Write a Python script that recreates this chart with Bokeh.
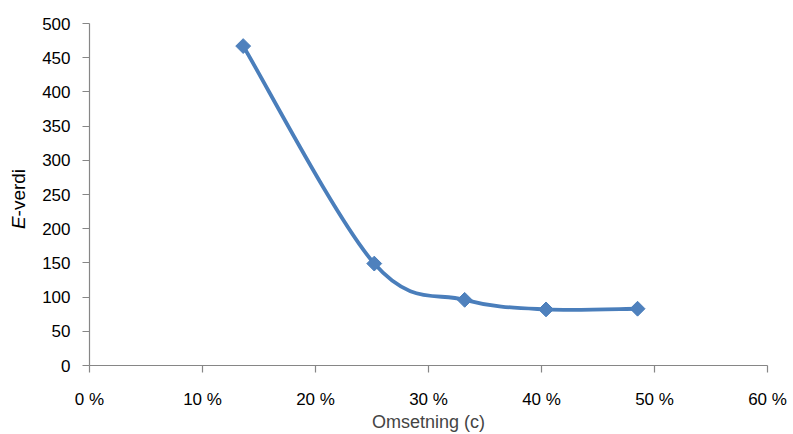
import math
from bokeh.plotting import figure
from bokeh.models import ColumnDataSource, FixedTicker, Range1d, Div
from bokeh.layouts import row
from bokeh.embed import file_html
from bokeh.resources import INLINE

# --- data ---
conversion = [13.6, 25.2, 33.2, 40.4, 48.5]   # Omsetning (c), %
e_value = [467, 149, 96, 82, 83]               # E-verdi
x_ticks = [0, 10, 20, 30, 40, 50, 60]
x_tick_labels = ["0 %", "10 %", "20 %", "30 %", "40 %", "50 %", "60 %"]
y_ticks = [0, 50, 100, 150, 200, 250, 300, 350, 400, 450, 500]

LINE = "#4A7EBB"
FILL = "#4F81BD"
AXIS = "#868686"
FONT = "Liberation Sans"

DIV_W = 30
p = figure(width=793 - DIV_W, height=434, output_backend="svg", toolbar_location=None,
           x_range=Range1d(0, 60), y_range=Range1d(0, 500),
           min_border_left=89 - DIV_W, min_border_right=26, min_border_top=23, min_border_bottom=69)
p.outline_line_color = None
p.grid.visible = False
p.background_fill_color = "white"
p.border_fill_color = "white"

# smoothed line (Excel-style cubic Bezier through the points)
n = len(conversion)
pts = list(zip(conversion, e_value))
x0s, y0s, x1s, y1s, cx0s, cy0s, cx1s, cy1s = [], [], [], [], [], [], [], []
t = 1.0 / 6.0
for i in range(n - 1):
    pm = pts[max(i - 1, 0)]
    p0 = pts[i]
    p1 = pts[i + 1]
    pp = pts[min(i + 2, n - 1)]
    x0s.append(p0[0]); y0s.append(p0[1])
    x1s.append(p1[0]); y1s.append(p1[1])
    cx0s.append(p0[0] + (p1[0] - pm[0]) * t)
    cy0s.append(p0[1] + (p1[1] - pm[1]) * t)
    cx1s.append(p1[0] - (pp[0] - p0[0]) * t)
    cy1s.append(p1[1] - (pp[1] - p0[1]) * t)
bsrc = ColumnDataSource(dict(x0=x0s, y0=y0s, x1=x1s, y1=y1s, cx0=cx0s, cy0=cy0s, cx1=cx1s, cy1=cy1s))
p.bezier(x0="x0", y0="y0", x1="x1", y1="y1", cx0="cx0", cy0="cy0", cx1="cx1", cy1="cy1",
         source=bsrc, line_color=LINE, line_width=3.8, line_cap="round")

src = ColumnDataSource(dict(x=conversion, y=e_value))
p.scatter("x", "y", source=src, marker="square", size=10.5, angle=math.pi / 4,
          fill_color=FILL, line_color=LINE, line_width=1)

# axes
for ax in (p.xaxis[0], p.yaxis[0]):
    ax.axis_line_color = AXIS
    ax.axis_line_width = 1.2
    ax.major_tick_line_color = AXIS
    ax.major_tick_line_width = 1.2
    ax.major_tick_in = 0
    ax.major_tick_out = 7
    ax.minor_tick_line_color = None
    ax.major_label_text_font = FONT
    ax.major_label_text_color = "black"

p.xaxis.ticker = FixedTicker(ticks=x_ticks)
p.xaxis.major_label_overrides = {k: v for k, v in zip(x_ticks, x_tick_labels)}
p.xaxis.major_label_text_font_size = "17px"
p.xaxis.major_label_standoff = 17
p.xaxis.axis_label = "Omsetning (c)"
p.xaxis.axis_label_text_font = FONT
p.xaxis.axis_label_text_font_style = "normal"
p.xaxis.axis_label_text_font_size = "18px"
p.xaxis.axis_label_standoff = 0

p.yaxis.ticker = FixedTicker(ticks=y_ticks)
p.yaxis.major_label_text_font_size = "17px"
p.yaxis.major_label_standoff = 12

# y-axis title: italic "E" + "-verdi", rotated (HTML, left of the plot)
ylabel = Div(width=DIV_W, height=434, margin=(0, 0, 0, 0), text=(
    '<div style="position:relative;width:%dpx;height:434px;">'
    '<span style="position:absolute;left:18px;top:199px;'
    'transform:translate(-50%%,-50%%) rotate(-90deg);white-space:nowrap;'
    "font-family:'Liberation Sans';font-size:19px;color:black;line-height:1;\">"
    '<i>E</i>-verdi</span></div>' % DIV_W))

layout = row(ylabel, p, spacing=0)
open("out.html", "w").write(file_html(layout, INLINE))
